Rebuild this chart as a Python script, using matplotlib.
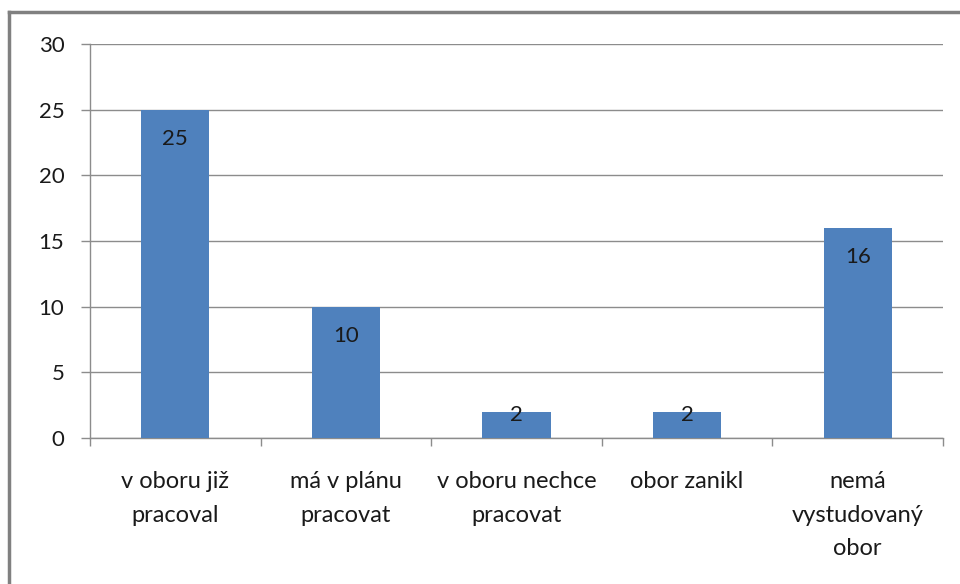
import matplotlib
matplotlib.use("Agg")
import matplotlib.pyplot as plt

categories = ["v oboru již\npracoval", "má v plánu\npracovat", "v oboru nechce\npracovat",
              "obor zanikl", "nemá\nvystudovaný\nobor"]
values = [25, 10, 2, 2, 16]
yticks = [0, 5, 10, 15, 20, 25, 30]

plt.rcParams['font.family'] = ['Lato', 'DejaVu Sans']
W, H = 960, 584
fig = plt.figure(figsize=(W / 100, H / 100), dpi=100)
ax = fig.add_axes([90 / W, 1 - 438 / H, (943 - 90) / W, (438 - 44) / H])

x = list(range(len(categories)))
ax.bar(x, values, width=0.40, color="#4F81BD", zorder=3)
ax.set_xlim(-0.5, len(categories) - 0.5)
ax.set_ylim(0, 30)
ax.set_yticks(yticks)
ax.set_yticklabels([str(t) for t in yticks], fontsize=16, color="#1a1a1a")
ax.yaxis.grid(True, color="#8c8c8c", linewidth=1, zorder=0)
ax.tick_params(axis='y', length=6.5, color="#8c8c8c", width=1, pad=12)

ax.set_xticks(x)
ax.set_xticklabels(categories, fontsize=17, color="#1a1a1a", linespacing=1.72, va='top')
ax.tick_params(axis='x', length=0, pad=24)
ax.set_xticks([i - 0.5 for i in range(len(categories) + 1)], minor=True)
ax.tick_params(axis='x', which='minor', length=6, color="#8c8c8c", width=1)

for s in ['top', 'right']:
    ax.spines[s].set_visible(False)
for s in ['left', 'bottom']:
    ax.spines[s].set_color("#8c8c8c")
    ax.spines[s].set_linewidth(1)

for xi, v in zip(x, values):
    off = -21 if v > 3 else -2
    ax.annotate(str(v), (xi, v), xytext=(0, off), textcoords='offset points',
                ha='center', va='center', fontsize=16, color="#1a1a1a", zorder=4)

fig.add_artist(plt.Line2D([9 / W, 1.0], [1 - 12 / H, 1 - 12 / H], transform=fig.transFigure,
                          color="#808080", linewidth=2.5))
fig.add_artist(plt.Line2D([9 / W, 9 / W], [1 - 12 / H, 0], transform=fig.transFigure,
                          color="#808080", linewidth=2.5))

fig.savefig("out.png", dpi=100)
